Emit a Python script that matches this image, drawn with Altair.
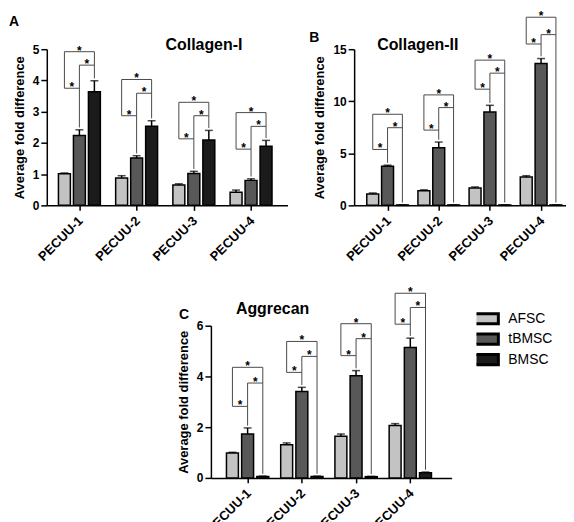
import altair as alt
import pandas as pd

groups = ["PECUU-1", "PECUU-2", "PECUU-3", "PECUU-4"]
cells = ["AFSC", "tBMSC", "BMSC"]
colors = ["#c3c3c3", "#585858", "#1b1b1b"]

# Collagen-I
col1_afsc = [1.01, 0.88, 0.65, 0.42]
col1_tbmsc = [2.24, 1.52, 1.02, 0.80]
col1_bmsc = [3.64, 2.53, 2.09, 1.89]
col1_afsc_err = [0.03, 0.07, 0.04, 0.07]
col1_tbmsc_err = [0.18, 0.07, 0.07, 0.05]
col1_bmsc_err = [0.35, 0.18, 0.31, 0.19]
col1_h1 = [3.75, 2.87, 2.13, 1.80]
col1_h2 = [4.49, 3.59, 2.87, 2.53]
col1_h3 = [4.92, 4.03, 3.30, 2.97]

# Collagen-II
col2_afsc = [1.09, 1.41, 1.67, 2.73]
col2_tbmsc = [3.76, 5.53, 8.97, 13.63]
col2_bmsc = [0.04, 0.04, 0.04, 0.04]
col2_afsc_err = [0.10, 0.08, 0.10, 0.12]
col2_tbmsc_err = [0.10, 0.55, 0.64, 0.47]
col2_bmsc_err = [0.01, 0.01, 0.01, 0.01]
col2_h1 = [5.37, 7.23, 11.16, 15.50]
col2_h2 = [7.46, 9.39, 12.70, 16.40]
col2_h3 = [8.75, 10.61, 13.95, 18.07]

# Aggrecan
agg_afsc = [0.98, 1.31, 1.64, 2.07]
agg_tbmsc = [1.73, 3.41, 4.03, 5.14]
agg_bmsc = [0.06, 0.06, 0.05, 0.20]
agg_afsc_err = [0.03, 0.07, 0.09, 0.07]
agg_tbmsc_err = [0.24, 0.16, 0.20, 0.37]
agg_bmsc_err = [0.01, 0.01, 0.01, 0.03]
agg_h1 = [2.82, 4.16, 4.82, 6.06]
agg_h2 = [3.74, 4.79, 5.49, 6.72]
agg_h3 = [4.36, 5.38, 6.08, 7.28]

FONT = "Liberation Sans"
label_expr = "[" + ",".join("'%s'" % g for g in groups) + "][datum.value]"

color_enc = alt.Color(
    "cell:N",
    scale=alt.Scale(domain=cells, range=colors),
    legend=alt.Legend(
        title=None,
        orient="none",
        legendX=432,
        legendY=263,
        symbolType="M-2,-0.76L2,-0.76L2,0.76L-2,0.76Z",
        symbolSize=182,
        symbolStrokeWidth=3,
        symbolStrokeColor="black",
        symbolOpacity=1,
        labelFont=FONT,
        labelFontSize=14,
        labelFontWeight=500,
        labelColor="black",
        labelOffset=15,
        clipHeight=16,
        rowPadding=4.5,
    ),
)


def panel(means, errs, h1, h2, h3, ymax, yticks, xdomain, d, width, height,
          title, title_xy, letter, letter_xy, title_padding):
    rows = []
    for i in range(len(groups)):
        for j, c in enumerate(cells):
            m = means[j][i]
            e = errs[j][i]
            rows.append({"pos": i + (j - 1) * d, "value": m, "top": m + e, "cell": c})
    bars_df = pd.DataFrame(rows)

    gap = 0.015 * ymax
    hseg, vseg, stars = [], [], []
    for i in range(len(groups)):
        xa, xt, xb = i - d, i, i + d
        top_t = means[1][i] + errs[1][i] + gap
        top_b = means[2][i] + errs[2][i] + gap
        hseg += [
            {"x1": xa, "x2": xt, "h": h1[i]},
            {"x1": xt, "x2": xb, "h": h2[i]},
            {"x1": xa, "x2": xb, "h": h3[i]},
        ]
        vseg += [
            {"x": xa, "y1": h1[i], "y2": h3[i]},
            {"x": xt, "y1": top_t, "y2": h2[i]},
            {"x": xb, "y1": top_b, "y2": h3[i]},
        ]
        stars += [
            {"x": (xa + xt) / 2, "h": h1[i], "s": "*"},
            {"x": (xt + xb) / 2, "h": h2[i], "s": "*"},
            {"x": (xa + xb) / 2, "h": h3[i], "s": "*"},
        ]

    xscale = alt.Scale(domain=xdomain, nice=False, zero=False)
    yscale = alt.Scale(domain=[0, ymax], nice=False)
    xaxis = alt.Axis(
        values=[0, 1, 2, 3], labelExpr=label_expr, title=None, labelAngle=315,
        labelAlign="right", labelBaseline="middle", labelPadding=8,
        labelOffset=1, labelFontSize=13, tickSize=5,
    )
    yaxis = alt.Axis(
        values=yticks, title="Average fold difference", titleFontSize=13,
        titlePadding=title_padding, labelFontSize=12, tickSize=6, labelPadding=2,
    )

    base = alt.Chart(bars_df)
    bars = base.mark_bar(size=12, stroke="black", strokeWidth=1.5).encode(
        x=alt.X("pos:Q", scale=xscale, axis=xaxis),
        y=alt.Y("value:Q", scale=yscale, axis=yaxis),
        color=color_enc,
    )
    err = base.mark_rule(color="black", strokeWidth=1.5).encode(
        x=alt.X("pos:Q", scale=xscale, axis=xaxis),
        y=alt.Y("value:Q", scale=yscale, axis=yaxis),
        y2="top:Q",
    )
    cap = base.mark_tick(orient="horizontal", size=8, thickness=1.5, color="black").encode(
        x=alt.X("pos:Q", scale=xscale, axis=xaxis),
        y=alt.Y("top:Q", scale=yscale, axis=yaxis),
    )
    hr = alt.Chart(pd.DataFrame(hseg)).mark_rule(color="#4a4a4a", strokeWidth=1).encode(
        x=alt.X("x1:Q", scale=xscale, axis=xaxis),
        x2="x2:Q",
        y=alt.Y("h:Q", scale=yscale, axis=yaxis),
    )
    vr = alt.Chart(pd.DataFrame(vseg)).mark_rule(color="#4a4a4a", strokeWidth=1).encode(
        x=alt.X("x:Q", scale=xscale, axis=xaxis),
        y=alt.Y("y1:Q", scale=yscale, axis=yaxis),
        y2="y2:Q",
    )
    st = alt.Chart(pd.DataFrame(stars)).mark_text(
        font=FONT, fontSize=12, fontWeight="bold", color="black",
        baseline="alphabetic", dy=3,
    ).encode(
        x=alt.X("x:Q", scale=xscale, axis=xaxis),
        y=alt.Y("h:Q", scale=yscale, axis=yaxis),
        text="s:N",
    )
    ttl = alt.Chart(pd.DataFrame({"t": [title]})).mark_text(
        font=FONT, fontSize=16, fontWeight="bold", color="black", baseline="middle",
    ).encode(x=alt.value(title_xy[0]), y=alt.value(title_xy[1]), text="t:N")
    let = alt.Chart(pd.DataFrame({"t": [letter]})).mark_text(
        font=FONT, fontSize=14, fontWeight="bold", color="black", baseline="middle",
    ).encode(x=alt.value(letter_xy[0]), y=alt.value(letter_xy[1]), text="t:N")

    return alt.layer(bars, err, cap, hr, vr, st, ttl, let).properties(
        width=width, height=height
    )


pA = panel(
    [col1_afsc, col1_tbmsc, col1_bmsc], [col1_afsc_err, col1_tbmsc_err, col1_bmsc_err],
    col1_h1, col1_h2, col1_h3, 5, [0, 1, 2, 3, 4, 5], [-0.483, 3.55], 0.262, 242, 157,
    "Collagen-I", (158, -4), "A", (-33, -27), 6,
)
pB = panel(
    [col2_afsc, col2_tbmsc, col2_bmsc], [col2_afsc_err, col2_tbmsc_err, col2_bmsc_err],
    col2_h1, col2_h2, col2_h3, 15, [0, 5, 10, 15], [-0.556, 3.39], 0.29, 213, 157,
    "Collagen-II", (64, -4), "B", (-40, -11), 6,
)
pC = panel(
    [agg_afsc, agg_tbmsc, agg_bmsc], [agg_afsc_err, agg_tbmsc_err, agg_bmsc_err],
    agg_h1, agg_h2, agg_h3, 6, [0, 2, 4, 6], [-0.585, 3.67], 0.28, 242, 153,
    "Aggrecan", (62, -17), "C", (-27, -11), 6,
)

spacer = alt.Chart(pd.DataFrame({"a": [0]})).mark_point(opacity=0).properties(
    width=100, height=10
)

row1 = alt.hconcat(pA, pB, spacing=67, bounds="flush")
row2 = alt.hconcat(spacer, pC, spacing=65, bounds="flush")

chart = alt.vconcat(row1, row2, spacing=278, bounds="flush").properties(
    padding=0
).configure_view(stroke=None).configure_axis(
    grid=False,
    domainColor="black",
    domainWidth=1.5,
    tickColor="black",
    tickWidth=1.5,
    labelFont=FONT,
    labelFontWeight="bold",
    labelColor="black",
    titleFont=FONT,
    titleFontWeight="bold",
    titleColor="black",
)

chart.save("out.html", embed_options={"renderer": "svg", "actions": False})
